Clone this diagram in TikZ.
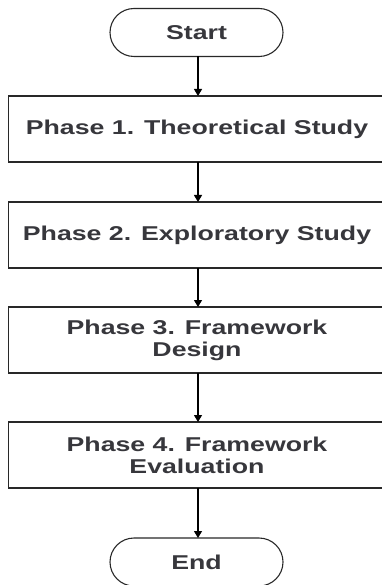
\documentclass[tikz,border=0pt]{standalone}
\usepackage{fontspec}
\newfontfamily\labfont[FakeStretch=1.335]{Liberation Sans}
\usetikzlibrary{arrows.meta,shapes.misc}
\definecolor{linec}{RGB}{40,40,40}
\definecolor{textc}{RGB}{55,55,60}
\begin{document}
\begin{tikzpicture}[x=1pt,y=-1pt,
  lab/.style={font=\labfont\bfseries\fontsize{20}{22}\selectfont, text=textc, align=center},
  phasebox/.style={lab, draw=linec, line width=1.1pt, rectangle, minimum width=377pt, minimum height=66pt, inner sep=0pt, outer sep=0pt},
  termbox/.style={lab, draw=linec, line width=1.1pt, rounded rectangle, minimum width=173pt, minimum height=48pt, inner sep=0pt, outer sep=0pt},
  flow/.style={draw=black, line width=1.1pt, -{Triangle[width=8pt,length=7pt]}}]
\useasboundingbox (0,0) rectangle (381,585);
\node[termbox] (start) at (196.5,32.5) {Start};
\node[phasebox] (p1) at (197,129) {Phase 1. Theoretical Study};
\node[phasebox] (p2) at (197,235) {Phase 2. Exploratory Study};
\node[phasebox] (p3) at (197,340) {Phase 3. Framework\\Design};
\node[phasebox] (p4) at (197,455) {Phase 4. Framework\\Evaluation};
\node[termbox] (end) at (196.5,562) {End};
\draw[flow] (start.south -| 198,0) -- (p1.north -| 198,0);
\draw[flow] (p1.south -| 198,0) -- (p2.north -| 198,0);
\draw[flow] (p2.south -| 198,0) -- (p3.north -| 198,0);
\draw[flow] (p3.south -| 198,0) -- (p4.north -| 198,0);
\draw[flow] (p4.south -| 198,0) -- (end.north -| 198,0);
\end{tikzpicture}
\end{document}
